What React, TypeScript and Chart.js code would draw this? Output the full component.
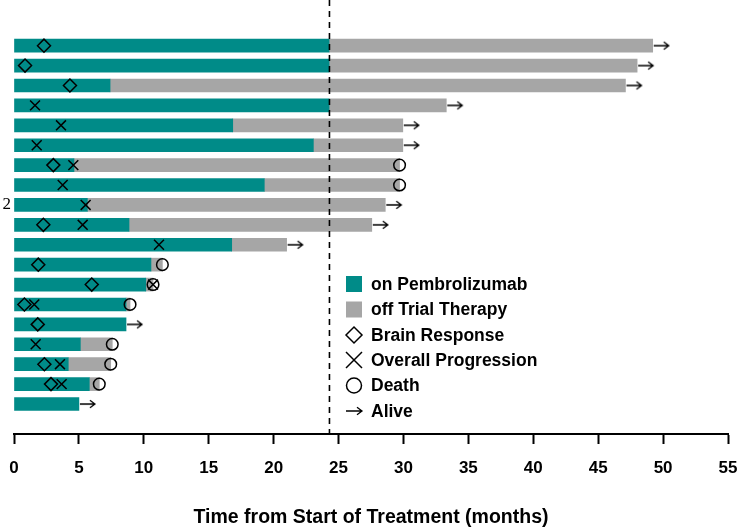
import { useEffect, useRef } from 'react';
import { Chart, registerables } from 'chart.js';

Chart.register(...registerables);

// ---- data (months) ----
const rowIds = [1, 2, 3, 4, 5, 6, 7, 8, 9, 10, 11, 12, 13, 14, 15, 16, 17, 18, 19];
const rowTickLabels = ['', '', '', '', '', '', '', '', '2', '', '', '', '', '', '', '', '', '', ''];
const onPembrolizumab = [24.27, 24.27, 7.4, 24.27, 16.85, 23.06, 4.62, 19.28, 5.65, 8.86, 16.77, 10.55, 10.15, 8.63, 8.63, 5.11, 4.18, 5.8, 5.0];
const totalFollowUp = [49.2, 48.0, 47.1, 33.3, 29.95, 29.95, 29.7, 29.7, 28.6, 27.56, 21.0, 11.43, 10.71, 8.94, 8.63, 7.57, 7.45, 6.57, 5.0];
const brainResponse: (number | null)[] = [2.31, 0.85, 4.31, null, null, null, 3.03, null, null, 2.26, null, 1.87, 5.99, 0.8, 1.83, null, 2.34, 2.85, null];
const overallProgression: (number | null)[] = [null, null, null, 1.62, 3.62, 1.75, 4.57, 3.75, 5.52, 5.29, 11.17, null, 10.71, 1.56, null, 1.67, 3.54, 3.67, null];
const status = ['alive', 'alive', 'alive', 'alive', 'alive', 'alive', 'death', 'death', 'alive', 'alive', 'alive', 'death', 'death', 'death', 'alive', 'death', 'death', 'death', 'alive'];
const dataCutoff = 24.3;
const xTickMax = 55;
const xTickStep = 5;
const legendLabels = ['on Pembrolizumab', 'off Trial Therapy', 'Brain Response', 'Overall Progression', 'Death', 'Alive'];

const TEAL = '#008B88';
const GRAY = '#A6A6A6';
const SANS = '"Liberation Sans", Arial, Helvetica, sans-serif';
const SERIF = '"Liberation Serif", "Times New Roman", serif';

function makeArrow(x0: number, x1: number, cy: number, w: number, h: number) {
  const c = document.createElement('canvas');
  c.width = w;
  c.height = h;
  const g = c.getContext('2d')!;
  g.strokeStyle = '#000';
  g.lineWidth = 1.3;
  g.beginPath();
  g.moveTo(x0, cy);
  g.lineTo(x1, cy);
  g.moveTo(x1 - 5, cy - 3.8);
  g.lineTo(x1, cy);
  g.lineTo(x1 - 5, cy + 3.8);
  g.stroke();
  return c;
}

const legendPlugin = {
  id: 'customLegend',
  afterDraw(chart: any) {
    const ctx = chart.ctx as CanvasRenderingContext2D;
    const mx = 354;
    const tx = 371;
    const ys = [284, 309.5, 335, 360, 385.5, 411];
    ctx.save();
    ctx.fillStyle = TEAL;
    ctx.fillRect(mx - 8, ys[0] - 8, 16, 16);
    ctx.fillStyle = GRAY;
    ctx.fillRect(mx - 8, ys[1] - 8, 16, 16);
    ctx.strokeStyle = '#000';
    ctx.lineWidth = 1.5;
    ctx.beginPath();
    ctx.moveTo(mx - 8, ys[2]);
    ctx.lineTo(mx, ys[2] - 8);
    ctx.lineTo(mx + 8, ys[2]);
    ctx.lineTo(mx, ys[2] + 8);
    ctx.closePath();
    ctx.stroke();
    ctx.beginPath();
    ctx.moveTo(mx - 8, ys[3] - 8);
    ctx.lineTo(mx + 8, ys[3] + 8);
    ctx.moveTo(mx + 8, ys[3] - 8);
    ctx.lineTo(mx - 8, ys[3] + 8);
    ctx.stroke();
    ctx.beginPath();
    ctx.arc(mx, ys[4], 7.5, 0, Math.PI * 2);
    ctx.stroke();
    ctx.lineWidth = 1.3;
    ctx.beginPath();
    ctx.moveTo(mx - 8, ys[5]);
    ctx.lineTo(mx + 8, ys[5]);
    ctx.moveTo(mx + 3, ys[5] - 3.8);
    ctx.lineTo(mx + 8, ys[5]);
    ctx.lineTo(mx + 3, ys[5] + 3.8);
    ctx.stroke();
    ctx.fillStyle = '#000';
    ctx.font = `bold 17.5px ${SANS}`;
    ctx.textBaseline = 'middle';
    ctx.textAlign = 'left';
    legendLabels.forEach((t, i) => ctx.fillText(t, tx, ys[i] + 1));
    ctx.restore();
  },
};

export default function App() {
  const ref = useRef<HTMLCanvasElement>(null);

  useEffect(() => {
    const arrowImg = makeArrow(21, 36, 6, 40, 12);
    const yMin = -1.294;
    const yMax = 20.506;

    const pts = (arr: (number | null)[]) =>
      rowIds.map((r, i) => (arr[i] == null ? null : { x: arr[i] as number, y: r })).filter(Boolean);

    const chart = new Chart(ref.current!, {
      type: 'scatter',
      data: {
        datasets: [
          {
            type: 'scatter',
            label: 'Brain Response',
            data: pts(brainResponse) as any,
            pointStyle: 'rectRot',
            radius: 6.5,
            borderColor: '#000',
            borderWidth: 1.5,
            backgroundColor: 'rgba(0,0,0,0)',
            order: 0,
          } as any,
          {
            type: 'scatter',
            label: 'Overall Progression',
            data: pts(overallProgression) as any,
            pointStyle: 'crossRot',
            radius: 7,
            borderColor: '#000',
            borderWidth: 1.5,
            order: 0,
          } as any,
          {
            type: 'scatter',
            label: 'Death',
            data: pts(totalFollowUp.map((v, i) => (status[i] === 'death' ? v : null))) as any,
            pointStyle: 'circle',
            radius: 5.8,
            borderColor: '#000',
            borderWidth: 1.5,
            backgroundColor: 'rgba(0,0,0,0)',
            order: 0,
          } as any,
          {
            type: 'scatter',
            label: 'Alive',
            data: pts(totalFollowUp.map((v, i) => (status[i] === 'alive' ? v : null))) as any,
            pointStyle: arrowImg,
            radius: 5,
            order: 0,
            clip: false,
          } as any,
          {
            type: 'line',
            label: 'cutoff',
            data: [
              { x: dataCutoff, y: yMin },
              { x: dataCutoff, y: yMax },
            ],
            borderColor: '#000',
            borderWidth: 1.6,
            borderDash: [6, 5],
            pointRadius: 0,
            order: 1,
            clip: false,
          } as any,
          {
            type: 'bar',
            label: 'on Pembrolizumab',
            indexAxis: 'y',
            grouped: false,
            data: rowIds.map((r, i) => ({ y: r, x: onPembrolizumab[i] })),
            backgroundColor: TEAL,
            barThickness: 13,
            order: 2,
          } as any,
          {
            type: 'bar',
            label: 'off Trial Therapy',
            indexAxis: 'y',
            grouped: false,
            data: rowIds
              .map((r, i) => (totalFollowUp[i] > onPembrolizumab[i] ? { y: r, x: [onPembrolizumab[i], totalFollowUp[i]] } : null))
              .filter(Boolean),
            backgroundColor: GRAY,
            barThickness: 13,
            order: 2,
          } as any,
        ],
      },
      options: {
        responsive: false,
        animation: false,
        layout: { autoPadding: false, padding: { left: 0, right: 13, top: 0, bottom: 0 } },
        plugins: {
          legend: { display: false },
          tooltip: { enabled: false },
        },
        scales: {
          x: {
            type: 'linear',
            offset: false,
            min: 0,
            max: xTickMax,
            ticks: {
              stepSize: xTickStep,
              color: '#000',
              font: { family: SANS, size: 17, weight: 'bold' },
              padding: 14,
              maxRotation: 0,
            },
            grid: {
              drawOnChartArea: false,
              tickLength: 10,
              tickColor: '#000',
              tickWidth: 2,
            },
            border: { color: '#000', width: 2 },
            title: {
              display: true,
              text: 'Time from Start of Treatment (months)',
              color: '#000',
              font: { family: SANS, size: 19.5, weight: 'bold' },
              padding: { top: 20, bottom: 0 },
            },
            afterFit: (s: any) => {
              s.height = 95;
              s.paddingLeft = 0;
              s.paddingRight = 0;
              s.paddingTop = 0;
              s.paddingBottom = 0;
            },
          },
          y: {
            type: 'linear',
            offset: false,
            reverse: true,
            min: yMin,
            max: yMax,
            grid: { display: false, drawTicks: false },
            border: { display: false },
            ticks: {
              color: '#000',
              font: { family: SERIF, size: 17 },
              padding: 3,
              callback: (v: any) => rowTickLabels[Math.round(v) - 1] ?? '',
            },
            afterBuildTicks: (s: any) => {
              s.ticks = rowIds.filter((_, i) => rowTickLabels[i] !== '').map((r) => ({ value: r }));
            },
            afterFit: (s: any) => {
              s.width = 14;
              s.paddingTop = 0;
              s.paddingBottom = 0;
              s.paddingLeft = 0;
              s.paddingRight = 0;
            },
          },
        },
      } as any,
      plugins: [legendPlugin],
    });
    return () => chart.destroy();
  }, []);

  return (
    <div style={{ position: 'absolute', left: 0, top: 0, width: 741, height: 529, background: '#fff' }}>
      <canvas ref={ref} width={741} height={529} style={{ display: 'block' }} />
    </div>
  );
}
